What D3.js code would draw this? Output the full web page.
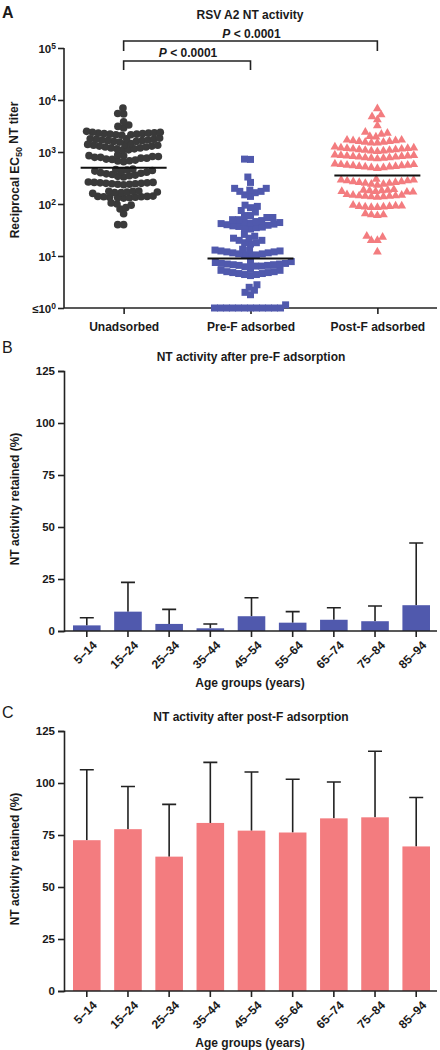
<!DOCTYPE html>
<html><head><meta charset="utf-8">
<script src="https://cdn.jsdelivr.net/npm/d3@7"></script>
<style>
body{margin:0;background:#fff;}
svg{display:block;font-family:Arial,"Liberation Sans",sans-serif;}
text{fill:#1a1a1a;}
</style></head>
<body><svg id="c" width="440" height="1050"></svg>
<script>
// ---------- DATA ----------
const groupNames = ["Unadsorbed", "Pre-F adsorbed", "Post-F adsorbed"];
const unadsorbed = [7000, 5400, 5500, 3800, 3300, 2900, 3100, 2400, 2500,
  2400, 2350, 2300, 2250, 2200, 2150, 2100, 2150, 2200, 2250, 2300,
  1850, 1800, 1750, 1700, 1650, 1600, 1550, 1600, 1650, 1700, 1750, 1800,
  1450, 1400, 1350, 1300, 1250, 1200, 1150, 1100, 1100, 1150, 1200, 1250, 1300, 1350, 1400,
  880, 850, 820, 790, 760, 730, 700, 670, 650, 680, 720, 760, 790, 820, 850,
  470, 450, 430, 410, 390, 370, 350, 330, 340, 360, 380, 400, 420, 440, 460,
  265, 260, 255, 250, 245, 240, 235, 240, 245, 250, 255, 260,
  178, 175, 170, 165, 160, 165, 170, 175,
  142, 140, 138, 135, 132, 130, 132, 135, 138, 140,
  100, 95, 105, 85, 80, 65, 40, 40];
const preF = [720, 730, 330, 260,
  200, 185, 175, 165, 150, 140, 175, 200,
  90, 85, 95,
  75, 70, 60, 55, 50, 48, 50, 55, 60,
  46, 44, 42, 40, 38, 36, 34, 33, 35, 37, 39, 41, 43, 45,
  26, 24, 22, 20, 18, 17, 18, 20, 22,
  13.5, 13, 12.5, 12, 11.5, 11, 10.5, 10, 10.5, 11, 11.5, 12, 12.5, 13,
  7.8, 7.5, 7.2, 7, 6.8, 6.6, 6.4, 6.2, 6.4, 6.6, 6.8, 7, 7.2, 7.5,
  5.6, 5.3, 5, 4.8, 4.6, 4.4, 4.2, 4.4, 4.6, 4.8, 5, 5.3,
  2.5, 2.0, 1.8, 2.2, 2.8,
  1.15, 1, 1, 1, 1, 1, 1, 1, 1, 1, 1, 1, 1];
const postF = [6800, 4800, 4200, 5200, 3200, 2400, 2200, 2300, 1950, 2000,
  1700, 1650, 1600, 1550, 1500, 1500, 1550, 1600, 1650, 1700,
  1250, 1200, 1170, 1140, 1110, 1080, 1050, 1020, 1050, 1080, 1110, 1140, 1170, 1200,
  880, 860, 840, 820, 800, 780, 760, 740, 760, 780, 800, 820, 840, 860,
  590, 575, 560, 545, 530, 515, 500, 485, 500, 515, 530, 545, 560, 575,
  300, 290, 280, 270, 260, 250, 240, 230, 240, 250, 260, 270, 280, 290,
  190, 185, 180, 175, 170, 170, 175, 180, 185,
  152, 148, 144, 141, 138, 135, 138, 141, 144, 148,
  95, 92, 90, 88, 86, 86, 88, 90, 92,
  65, 62, 60, 62,
  20, 24, 23, 20, 12];
const medians = [500, 9, 355];
const logTicks = [1, 10, 100, 1000, 10000, 100000];

const ageGroups = ["5–14", "15–24", "25–34", "35–44", "45–54", "55–64", "65–74", "75–84", "85–94"];
const preFMean = [2.7, 9.3, 3.4, 1.3, 7.1, 4.0, 5.4, 4.7, 12.4];
const preFUpper = [6.4, 23.4, 10.4, 3.4, 16.0, 9.3, 11.2, 12.0, 42.3];
const postFMean = [72.5, 77.8, 64.6, 80.8, 77.1, 76.2, 83.0, 83.5, 69.5];
const postFUpper = [106.4, 98.3, 89.7, 109.9, 105.3, 101.8, 100.5, 115.3, 93.0];
const pctTicks = [0, 25, 50, 75, 100, 125];

// ---------- STYLE ----------
const ink = "#222";
const cBlack = "#3a3a3a", cBlue = "#5059ad", cPink = "#f37c7f";
const svg = d3.select("#c");

function styleAxis(g) {
  g.selectAll("path,line").attr("stroke", ink).attr("stroke-width", 1.6);
  g.selectAll("text").attr("font-size", 11.5).attr("font-weight", "bold").attr("fill", "#1a1a1a");
}

// ---------- PANEL A ----------
const xA = d3.scalePoint().domain(groupNames).range([64, 437]).padding(0.47);
const yA = d3.scaleLog().domain([1, 1e5]).range([308, 48]);

svg.append("text").attr("x", 2).attr("y", 18).attr("font-size", 16).attr("font-weight", "bold").text("A");
svg.append("text").attr("x", 250).attr("y", 19).attr("text-anchor", "middle").attr("font-size", 12).attr("font-weight", "bold").text("RSV A2 NT activity");

const gyA = svg.append("g").attr("transform", "translate(64,0)")
  .call(d3.axisLeft(yA).tickValues(logTicks).tickSize(6).tickFormat(() => ""));
gyA.select(".domain").attr("d", `M0,${yA(1e5)}V${yA(1)}`);
styleAxis(gyA);
gyA.selectAll(".tick").each(function (d) {
  const t = d3.select(this).append("text").attr("x", -8).attr("dy", "0.36em").attr("text-anchor", "end")
    .attr("font-size", 11.5).attr("font-weight", "bold").attr("fill", "#1a1a1a");
  t.append("tspan").text(d === 1 ? "≤10" : "10");
  t.append("tspan").attr("dy", "-0.45em").attr("font-size", 8.5).text(Math.round(Math.log10(d)));
});

const gxA = svg.append("g").attr("transform", `translate(0,${yA(1)})`)
  .call(d3.axisBottom(xA).tickSize(6).tickSizeOuter(0).tickPadding(8));
gxA.select(".domain").attr("d", "M64,0H437");
styleAxis(gxA);
gxA.selectAll("text").attr("font-size", 12);

const yt = svg.append("text").attr("transform", "translate(19,170) rotate(-90)").attr("text-anchor", "middle")
  .attr("font-size", 12).attr("font-weight", "bold");
yt.append("tspan").text("Reciprocal EC");
yt.append("tspan").attr("dy", "0.35em").attr("font-size", 9).text("50");
yt.append("tspan").attr("dy", "-0.35em").text(" NT titer");

// brackets
const brackets = [{a: 0, b: 2, top: 41, bot: 51, ly: 38}, {a: 0, b: 1, top: 61, bot: 70, ly: 57}];
brackets.forEach(br => {
  const x1 = xA(groupNames[br.a]), x2 = xA(groupNames[br.b]);
  svg.append("path").attr("d", `M${x1},${br.bot}V${br.top}H${x2}V${br.bot}`).attr("fill", "none").attr("stroke", ink).attr("stroke-width", 1.6);
  const t = svg.append("text").attr("x", (x1 + x2) / 2 + 1).attr("y", br.ly).attr("text-anchor", "middle").attr("font-size", 12).attr("font-weight", "bold");
  t.append("tspan").attr("font-style", "italic").text("P");
  t.append("tspan").text(" < 0.0001");
});

// beeswarm placement (layout only; values come from the arrays above)
function swarm(vals, d) {
  const pts = vals.map(v => ({v, y: yA(v)})).sort((a, b) => b.y - a.y);
  const placed = [];
  for (const p of pts) {
    const blocks = [];
    for (const q of placed) {
      const dy = Math.abs(q.y - p.y);
      if (dy < d) { const w = Math.sqrt(d * d - dy * dy); blocks.push([q.x - w, q.x + w]); }
    }
    const cands = [0];
    blocks.forEach(b => cands.push(b[0], b[1]));
    cands.sort((a, b) => Math.abs(a) - Math.abs(b));
    for (const c of cands) {
      if (blocks.every(b => c <= b[0] + 1e-6 || c >= b[1] - 1e-6)) { p.x = c; break; }
    }
    placed.push(p);
  }
  return placed;
}

const groups = [
  {vals: unadsorbed, color: cBlack, sym: d3.symbolCircle, size: 46, d: 5.9},
  {vals: preF, color: cBlue, sym: d3.symbolSquare, size: 49, d: 6.0},
  {vals: postF, color: cPink, sym: d3.symbolTriangle, size: 34, d: 6.1}
];
groups.forEach((g, i) => {
  const cx = xA(groupNames[i]);
  const pts = swarm(g.vals, g.d);
  svg.append("g").selectAll("path").data(pts).join("path")
    .attr("d", d3.symbol(g.sym, g.size))
    .attr("transform", p => `translate(${cx + p.x},${p.y})`)
    .attr("fill", g.color);
  svg.append("line").attr("x1", cx - 43).attr("x2", cx + 43).attr("y1", yA(medians[i])).attr("y2", yA(medians[i]))
    .attr("stroke", "#111").attr("stroke-width", 2);
});

// ---------- BAR PANELS ----------
function barPanel(opt) {
  const x = d3.scaleBand().domain(ageGroups).range([66, 437]).paddingInner(0.33).paddingOuter(0.17);
  const y = d3.scaleLinear().domain([0, 125]).range([opt.y0, opt.y0 - 260]);
  svg.append("text").attr("x", 2).attr("y", opt.letterY).attr("font-size", 16).text(opt.letter);
  svg.append("text").attr("x", 251).attr("y", opt.titleY).attr("text-anchor", "middle").attr("font-size", 12).attr("font-weight", "bold").text(opt.title);
  const eg = svg.append("g");
  ageGroups.forEach((a, i) => {
    const cx = x(a) + x.bandwidth() / 2;
    eg.append("path").attr("d", `M${cx},${y(opt.mean[i])}V${y(opt.upper[i])}M${cx - 7},${y(opt.upper[i])}H${cx + 7}`)
      .attr("stroke", ink).attr("stroke-width", 1.6).attr("fill", "none");
  });
  svg.append("g").selectAll("rect").data(ageGroups).join("rect")
    .attr("x", d => x(d)).attr("width", x.bandwidth())
    .attr("y", (d, i) => y(opt.mean[i])).attr("height", (d, i) => y(0) - y(opt.mean[i]))
    .attr("fill", opt.color);
  const gy = svg.append("g").attr("transform", "translate(64,0)")
    .call(d3.axisLeft(y).tickValues(pctTicks).tickSize(6).tickPadding(3));
  styleAxis(gy);
  const gx = svg.append("g").attr("transform", `translate(0,${y(0)})`)
    .call(d3.axisBottom(x).tickSize(6).tickSizeOuter(0));
  gx.select(".domain").attr("d", "M64,0H437");
  styleAxis(gx);
  gx.selectAll("text").attr("text-anchor", "end").attr("font-size", 12)
    .attr("transform", "translate(5,9) rotate(-45)").attr("dy", "0.7em").attr("y", 0).attr("x", 0);
  svg.append("text").attr("x", 250).attr("y", y(0) + 56).attr("text-anchor", "middle").attr("font-size", 12).attr("font-weight", "bold").text("Age groups (years)");
  svg.append("text").attr("transform", `translate(19,${y(0) - 132}) rotate(-90)`).attr("text-anchor", "middle")
    .attr("font-size", 12).attr("font-weight", "bold").text("NT activity retained (%)");
}
barPanel({letter: "B", letterY: 353, y0: 631, titleY: 361, title: "NT activity after pre-F adsorption", mean: preFMean, upper: preFUpper, color: cBlue});
barPanel({letter: "C", letterY: 718, y0: 991, titleY: 721, title: "NT activity after post-F adsorption", mean: postFMean, upper: postFUpper, color: cPink});
</script></body></html>
